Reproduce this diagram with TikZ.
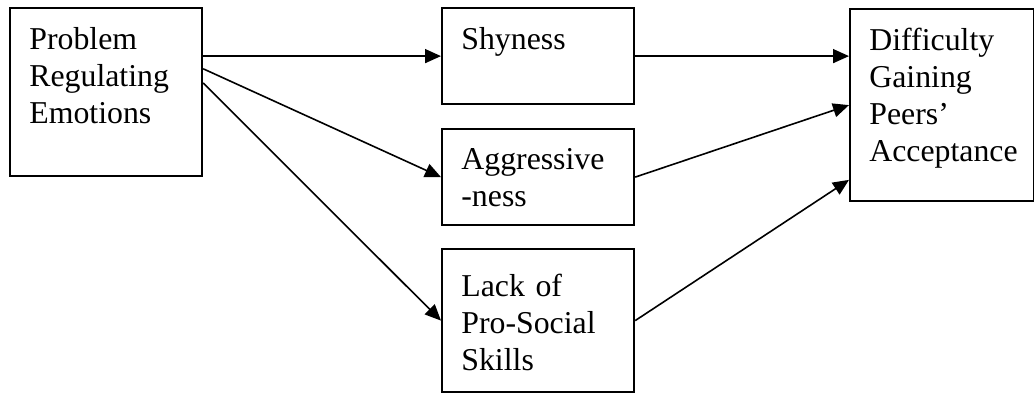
\documentclass[tikz,border=0pt]{standalone}
\usepackage{fontspec}
\setmainfont{Liberation Serif}
\usetikzlibrary{arrows.meta,calc}
\tikzset{
  box/.style={draw,line width=1.1pt,anchor=north west,inner sep=0pt,minimum width=96pt},
  boxtext/.style={anchor=north west,inner sep=0pt,xshift=10pt,yshift=-10pt,
    text width=90pt,align=left,font=\fontsize{15.9}{18.5}\selectfont},
  link/.style={line width=0.8pt,-{Triangle[length=8pt,width=7pt]}}
}

\begin{document}
\begin{tikzpicture}[x=0.5pt,y=-0.5pt]
  \useasboundingbox (0,0) rectangle (1034,392);
  \node[box,minimum height=84pt,
    label={[boxtext]north west:Problem\\Regulating\\Emotions}] (prob) at (9,7) {};
  \node[box,minimum height=48pt,
    label={[boxtext]north west:Shyness}] (shy) at (441,7) {};
  \node[box,minimum height=48pt,
    label={[boxtext]north west:Aggressive\\-ness}] (aggr) at (441,128) {};
  \node[box,minimum height=71.5pt,
    label={[boxtext,yshift=-3pt]north west:Lack of\\Pro-Social\\Skills}] (lack) at (441,248) {};
  \node[box,minimum width=92pt,minimum height=96pt,
    label={[boxtext]north west:Difficulty\\Gaining\\Peers’\\Acceptance}] (diff) at (849,8) {};

  \draw[link] (prob.east |- shy.west) -- (shy.west);
  \draw[link] ($(prob.north east)!0.363!(prob.south east)$) -- (aggr.west);
  \draw[link] ($(prob.north east)!0.446!(prob.south east)$) -- (lack.west);

  \draw[link] (shy.east) -- (shy.east -| diff.west);
  \draw[link] (aggr.east) -- (diff.west);
  \draw[link] (lack.east) -- ($(diff.north west)!0.885!(diff.south west)$);
\end{tikzpicture}
\end{document}
